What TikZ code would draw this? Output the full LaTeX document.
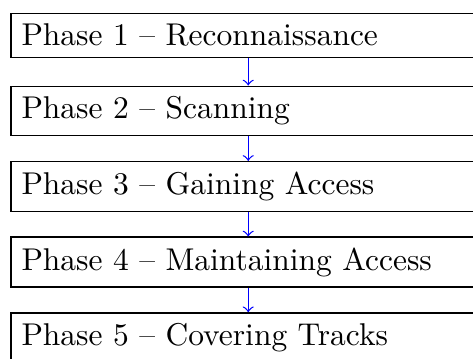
\documentclass[tikz,border=0pt]{standalone}
\usepackage{tikz}
\usetikzlibrary{positioning}

\begin{document}
\begin{tikzpicture}[
  node distance=24pt,
  on grid,
  phase/.style={
    rectangle, draw, text width=144pt, inner sep=3.33pt
  },
  flow/.style={->, blue}
]
  \useasboundingbox (-78.83pt,11.24pt) rectangle ++(150.2pt,-114pt);

  % Phases
  \node[phase] (recon) {Phase 1 -- Reconnaissance};
  \node[phase, below=of recon] (scan) {Phase 2 -- Scanning};
  \node[phase, below=of scan] (access) {Phase 3 -- Gaining Access};
  \node[phase, below=of access] (maintain) {Phase 4 -- Maintaining Access};
  \node[phase, below=of maintain] (tracks) {Phase 5 -- Covering Tracks};

  % Links
  \draw[flow] (recon) -- (scan);
  \draw[flow] (scan) -- (access);
  \draw[flow] (access) -- (maintain);
  \draw[flow] (maintain) -- (tracks);

\end{tikzpicture}
\end{document}
